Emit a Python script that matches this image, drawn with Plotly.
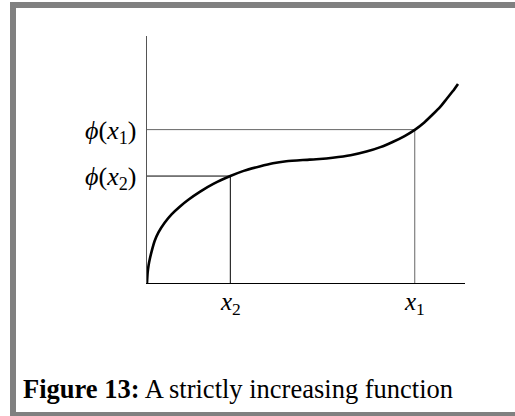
import plotly.graph_objects as go

# Curve samples (arbitrary units, axes run 0..10)
curve_x = [0.0, 0.02, 0.05, 0.09, 0.15, 0.24, 0.36, 0.56, 0.78, 1.03, 1.30, 1.66, 2.10, 2.62, 3.04, 3.54, 3.96, 4.38, 4.90, 5.43, 5.84, 6.40, 6.90, 7.34, 7.74, 8.10, 8.42, 8.72, 8.99, 9.22, 9.42, 9.62, 9.78]
curve_y = [0.0, 0.42, 0.72, 0.98, 1.30, 1.70, 2.05, 2.45, 2.79, 3.09, 3.37, 3.69, 4.02, 4.33, 4.54, 4.72, 4.85, 4.93, 4.98, 5.02, 5.07, 5.17, 5.32, 5.50, 5.72, 5.95, 6.20, 6.50, 6.83, 7.13, 7.45, 7.77, 8.06]

x1, phi_x1 = 8.42, 6.21
x2, phi_x2 = 2.62, 4.33

x_range = [0, 10]
y_range = [0, 10]

tick_x_labels = ["<i>x</i><sub>2</sub>", "<i>x</i><sub>1</sub>"]
tick_y_labels = ["<i>ϕ</i>(<i>x</i><sub>2</sub>)", "<i>ϕ</i>(<i>x</i><sub>1</sub>)"]
caption_bold = "Figure 13:"
caption_text = "A strictly increasing function"

W, H = 515, 416
L, R, T, B = 147, 50, 36, 133
PW, PH = W - L - R, H - T - B

def px(xp):
    return (xp - L) / PW

def py(yp):
    return (H - B - yp) / PH

FONT = "Liberation Serif"
GRAY = "#808080"

fig = go.Figure()

# guide lines
fig.add_trace(go.Scatter(x=[0, x1, x1], y=[phi_x1, phi_x1, 0], mode="lines",
                         line=dict(color="#666666", width=1), hoverinfo="skip"))
fig.add_trace(go.Scatter(x=[0, x2, x2], y=[phi_x2, phi_x2, 0], mode="lines",
                         line=dict(color="#000000", width=1), hoverinfo="skip"))
# curve
fig.add_trace(go.Scatter(x=curve_x, y=curve_y, mode="lines",
                         line=dict(color="black", width=2.6, shape="spline", smoothing=0.6),
                         hoverinfo="skip"))

annotations = []
for xv, lab in zip([x2, x1], tick_x_labels):
    annotations.append(dict(x=xv, y=0, xref="x", yref="paper", text=lab, showarrow=False,
                            xanchor="center", yanchor="top", yshift=-3,
                            font=dict(family=FONT, size=25, color="black")))
for yv, lab in zip([phi_x2, phi_x1], tick_y_labels):
    annotations.append(dict(x=0, y=yv, xref="paper", yref="y", text=lab, showarrow=False,
                            xanchor="right", yanchor="middle", xshift=-9, yshift=-2,
                            font=dict(family=FONT, size=26, color="black")))
annotations.append(dict(x=px(21), y=py(389), xref="paper", yref="paper",
                        text="<b>" + caption_bold + "</b> " + caption_text, showarrow=False,
                        xanchor="left", yanchor="middle",
                        font=dict(family=FONT, size=26.5, color="black")))

shapes = [
    dict(type="rect", xref="paper", yref="paper", x0=px(10), x1=px(16), y0=py(2), y1=py(416),
         fillcolor=GRAY, line=dict(width=0), layer="above"),
    dict(type="rect", xref="paper", yref="paper", x0=px(10), x1=px(515), y0=py(2), y1=py(8),
         fillcolor=GRAY, line=dict(width=0), layer="above"),
    dict(type="rect", xref="paper", yref="paper", x0=px(10), x1=px(515), y0=py(412), y1=py(416),
         fillcolor=GRAY, line=dict(width=0), layer="above"),
]

fig.update_layout(
    width=W, height=H, margin=dict(l=L, r=R, t=T, b=B),
    paper_bgcolor="white", plot_bgcolor="white", showlegend=False,
    annotations=annotations, shapes=shapes,
    xaxis=dict(range=x_range, showgrid=False, zeroline=False, showticklabels=False, ticks="",
               showline=True, linecolor="black", linewidth=1, fixedrange=True),
    yaxis=dict(range=y_range, showgrid=False, zeroline=False, showticklabels=False, ticks="",
               showline=True, linecolor="#555555", linewidth=1, fixedrange=True),
)

fig.write_html("out.html", config={"displayModeBar": False})
